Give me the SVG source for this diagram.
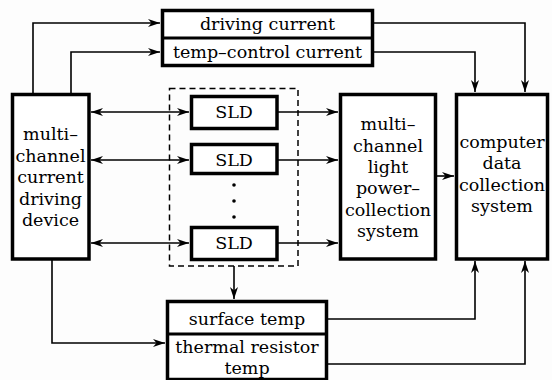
<svg xmlns="http://www.w3.org/2000/svg" width="552" height="380" viewBox="0 0 552 380">
<style>
.box{fill:#fff;stroke:#000;stroke-width:3.5}
.div{stroke:#000;stroke-width:3}
.dash{fill:none;stroke:#000;stroke-width:1.5;stroke-dasharray:6 4}
.c{fill:none;stroke:#000;stroke-width:1.6}
text{font-family:"DejaVu Serif","Liberation Serif",serif;font-size:17.5px;fill:#000;text-anchor:middle}
</style>
<defs>
<marker id="ah" viewBox="0 0 12 8" refX="12" refY="4" markerWidth="12" markerHeight="8" markerUnits="userSpaceOnUse" orient="auto-start-reverse">
<path d="M0,0 L12,4 L0,8 L3.5,4 z" fill="#000"/>
</marker>
</defs>
<rect width="552" height="380" fill="#fdfdfd"/>
<g id="connectors">
<polyline class="c" points="33,93 33,23 160,23" marker-end="url(#ah)"/>
<polyline class="c" points="71,93 71,52 160,52" marker-end="url(#ah)"/>
<line class="c" x1="91" y1="112" x2="189" y2="112" marker-start="url(#ah)" marker-end="url(#ah)"/>
<line class="c" x1="91" y1="160" x2="189" y2="160" marker-start="url(#ah)" marker-end="url(#ah)"/>
<line class="c" x1="91" y1="243" x2="189" y2="243" marker-start="url(#ah)" marker-end="url(#ah)"/>
<line class="c" x1="278" y1="112" x2="338" y2="112" marker-end="url(#ah)"/>
<line class="c" x1="278" y1="160" x2="338" y2="160" marker-end="url(#ah)"/>
<line class="c" x1="278" y1="243" x2="338" y2="243" marker-end="url(#ah)"/>
<line class="c" x1="437" y1="176" x2="454" y2="176" marker-end="url(#ah)"/>
<polyline class="c" points="374,23 525,23 525,92" marker-end="url(#ah)"/>
<polyline class="c" points="374,52 475,52 475,92" marker-end="url(#ah)"/>
<line class="c" x1="234" y1="266" x2="234" y2="299" marker-end="url(#ah)"/>
<polyline class="c" points="52,260 52,343 165,343" marker-end="url(#ah)"/>
<polyline class="c" points="328,319 475,319 475,261" marker-end="url(#ah)"/>
<polyline class="c" points="328,364 525,364 525,261" marker-end="url(#ah)"/>
</g>
<g id="sld-group">
<rect class="dash" x="169.5" y="88.5" width="128.5" height="177.5"/>
</g>
<g id="top-box">
<rect class="box" x="162.5" y="10.5" width="210" height="55"/>
<line class="div" x1="162.5" y1="38" x2="372.5" y2="38"/>
<text x="267.5" y="30">driving current</text>
<text x="267.5" y="58">temp–control current</text>
</g>
<g id="driver">
<rect class="box" x="12.5" y="94.5" width="76.5" height="164.5"/>
<text x="50.5" y="140">multi–</text>
<text x="50.5" y="162">channel</text>
<text x="50.5" y="183">current</text>
<text x="50.5" y="205">driving</text>
<text x="50.5" y="226">device</text>
</g>
<g id="sld1">
<rect class="box" x="191.5" y="96.5" width="85.5" height="32"/>
<text x="234" y="118">SLD</text>
</g>
<g id="sld2">
<rect class="box" x="191.5" y="144.5" width="85.5" height="29"/>
<text x="234" y="166">SLD</text>
</g>
<g id="dots">
<circle cx="234" cy="185" r="1.8"/>
<circle cx="234" cy="201" r="1.8"/>
<circle cx="234" cy="217" r="1.8"/>
</g>
<g id="sld3">
<rect class="box" x="191.5" y="227.5" width="85.5" height="32"/>
<text x="234" y="249">SLD</text>
</g>
<g id="light-collection">
<rect class="box" x="340.5" y="94.5" width="95" height="164.5"/>
<text x="388" y="130">multi–</text>
<text x="388" y="152">channel</text>
<text x="388" y="173">light</text>
<text x="388" y="194">power–</text>
<text x="388" y="216">collection</text>
<text x="388" y="237">system</text>
</g>
<g id="computer">
<rect class="box" x="456.5" y="94.5" width="91" height="164.5"/>
<text x="502" y="148">computer</text>
<text x="502" y="169">data</text>
<text x="502" y="191">collection</text>
<text x="502" y="212">system</text>
</g>
<g id="temp-box">
<rect class="box" x="167.5" y="301.5" width="159" height="78"/>
<line class="div" x1="167.5" y1="334" x2="326.5" y2="334"/>
<text x="247" y="325">surface temp</text>
<text x="247" y="353">thermal resistor</text>
<text x="247" y="374">temp</text>
</g>
</svg>
